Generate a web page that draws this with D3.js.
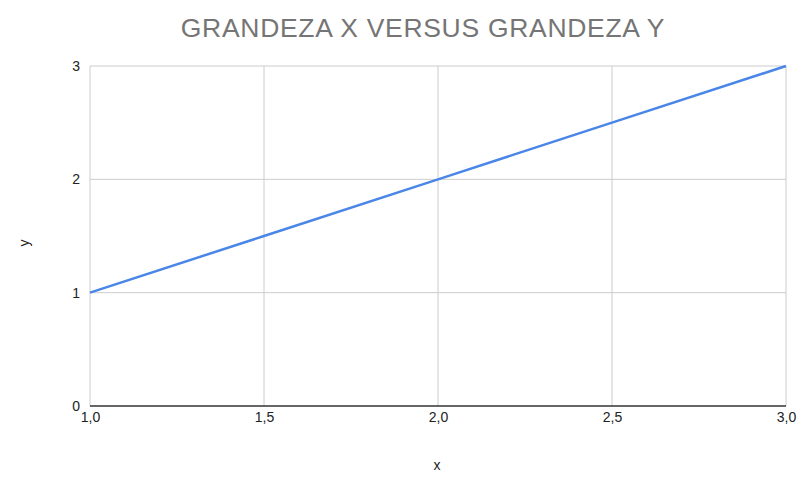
<!DOCTYPE html>
<html>
<head>
<meta charset="utf-8">
<script src="https://cdn.jsdelivr.net/npm/d3@7"></script>
<style>
  body { margin: 0; background: #fff; }
</style>
</head>
<body>
<div id="chart"></div>
<script>
const xValues = [1, 1.5, 2, 2.5, 3];
const yValues = [1, 1.5, 2, 2.5, 3];
const xTicks = [1, 1.5, 2, 2.5, 3];
const yTicks = [0, 1, 2, 3];
const titleText = "GRANDEZA X VERSUS GRANDEZA Y";

const totalWidth = 804;
const totalHeight = 488;
const margin = { top: 66, right: 18, bottom: 82, left: 90 };
const width = totalWidth - margin.left - margin.right;
const height = totalHeight - margin.top - margin.bottom;

const fontFamily = "Arial, 'Liberation Sans', sans-serif";
const lineColor = "#4a86e8";
const gridColor = "#cccccc";
const labelColor = "#222222";

const svgEl = d3.select("#chart")
  .append("svg")
  .attr("width", totalWidth)
  .attr("height", totalHeight)
  .style("font-family", fontFamily);

svgEl.append("rect")
  .attr("width", totalWidth)
  .attr("height", totalHeight)
  .attr("fill", "#fff");

const svg = svgEl.append("g")
  .attr("transform", `translate(${margin.left},${margin.top})`);

const xScale = d3.scaleLinear().domain([1, 3]).range([0, width]);
const yScale = d3.scaleLinear().domain([0, 3]).range([height, 0]);

// gridlines
svg.append("g")
  .selectAll("line")
  .data(yTicks.filter(d => d !== 0))
  .join("line")
  .attr("x1", 0)
  .attr("x2", width)
  .attr("y1", d => yScale(d))
  .attr("y2", d => yScale(d))
  .attr("stroke", gridColor)
  .attr("stroke-width", 1);

svg.append("g")
  .selectAll("line")
  .data(xTicks)
  .join("line")
  .attr("x1", d => xScale(d))
  .attr("x2", d => xScale(d))
  .attr("y1", 0)
  .attr("y2", height)
  .attr("stroke", gridColor)
  .attr("stroke-width", 1);

// x axis
const fmt = d => d3.format(".1f")(d).replace(".", ",");
const xAxis = svg.append("g")
  .attr("transform", `translate(0,${height})`)
  .call(d3.axisBottom(xScale).tickValues(xTicks).tickSize(0).tickPadding(6).tickFormat(fmt));
xAxis.select(".domain").remove();
xAxis.selectAll("text")
  .attr("font-size", "14px")
  .attr("font-family", fontFamily)
  .attr("fill", labelColor);

// y axis
const yAxis = svg.append("g")
  .call(d3.axisLeft(yScale).tickValues(yTicks).tickSize(0).tickPadding(10).tickFormat(d3.format("d")));
yAxis.select(".domain").remove();
yAxis.selectAll("text")
  .attr("font-size", "14px")
  .attr("font-family", fontFamily)
  .attr("fill", labelColor);

// zero baseline
svg.append("line")
  .attr("x1", 0)
  .attr("x2", width)
  .attr("y1", yScale(0))
  .attr("y2", yScale(0))
  .attr("stroke", "#333333")
  .attr("stroke-width", 1.5);

// line
const lineData = xValues.map((x, i) => ({ x, y: yValues[i] }));
svg.append("path")
  .datum(lineData)
  .attr("fill", "none")
  .attr("stroke", lineColor)
  .attr("stroke-width", 2.5)
  .attr("d", d3.line().x(d => xScale(d.x)).y(d => yScale(d.y)));

// title
svgEl.append("text")
  .attr("x", 423)
  .attr("y", 37)
  .attr("text-anchor", "middle")
  .attr("font-size", "26.5px")
  .attr("letter-spacing", "0.7px")
  .attr("fill", "#757575")
  .text(titleText);

// axis labels
svgEl.append("text")
  .attr("x", 437)
  .attr("y", 470)
  .attr("text-anchor", "middle")
  .attr("font-size", "14px")
  .attr("fill", labelColor)
  .text("x");

svgEl.append("text")
  .attr("transform", "translate(29,243) rotate(-90)")
  .attr("text-anchor", "middle")
  .attr("font-size", "14px")
  .attr("fill", labelColor)
  .text("y");
</script>
</body>
</html>
